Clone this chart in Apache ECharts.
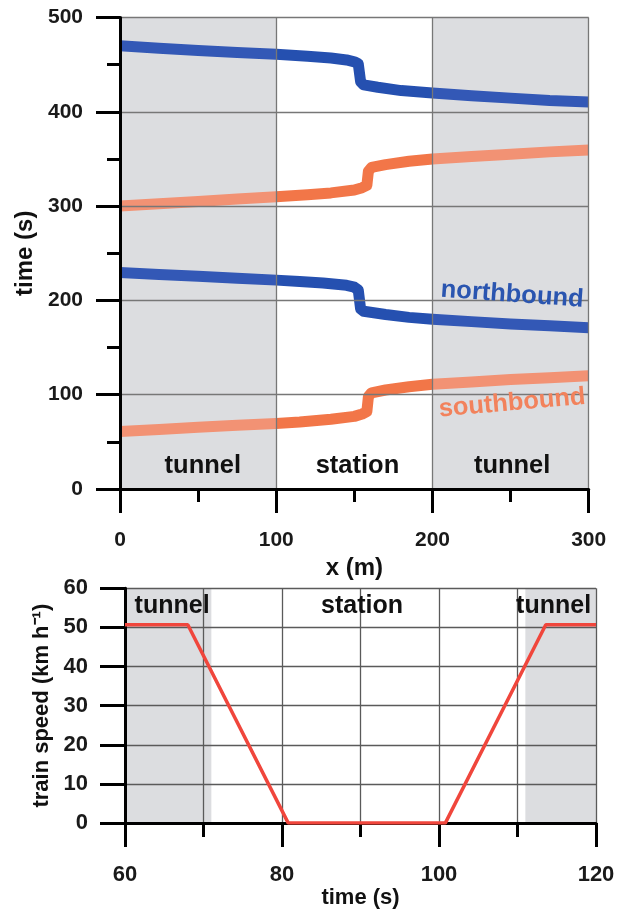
<!DOCTYPE html>
<html><head><meta charset="utf-8">
<script src="https://cdn.jsdelivr.net/npm/echarts@6/dist/echarts.min.js"></script>
<style>html,body{margin:0;padding:0;background:#fff}#c{width:623px;height:910px}</style>
</head><body><div id="c"></div><script>
const FONT = '"Liberation Sans", Arial, Helvetica, sans-serif';

// Top panel: x (m) vs time (s)
const northUpper = [[0,470],[25,467.5],[50,465],[75,463],[100,461],[120,459],[135,457],[145,455],[150,453],[152.5,451],[154,432],[156,428.5],[165,426],[180,422.5],[200,420],[225,417],[250,414.5],[275,412],[300,410.5]];
const southUpper = [[0,300],[25,302.5],[50,305],[75,307.5],[100,310],[120,312],[135,314],[150,317],[155,319.5],[158,322],[159,337],[161,341],[170,344],[185,347.5],[200,350],[225,352.5],[250,355],[275,357.5],[300,359.5]];
const northLower = [[0,229.5],[25,227.5],[50,225.5],[75,223.5],[100,221.5],[115,220],[130,218.5],[145,216],[150,214],[152.5,211],[154,191],[156,188.5],[170,185],[185,182],[200,180],[225,177.5],[250,175],[275,173],[300,171]];
const southLower = [[0,61],[25,63],[50,65.5],[75,67.5],[100,69.5],[115,71],[135,74],[150,77],[155,79.5],[158,82],[159,98],[161,102],[170,105],[185,108.5],[200,111],[225,113.5],[250,116],[275,118],[300,120]];
const topXTicks = [0, 100, 200, 300];
const topYTicks = [0, 100, 200, 300, 400, 500];
const topZones = [[0,100],[200,300]];
const topZoneLabels = [['tunnel',53,24],['station',152,24],['tunnel',251,24]];
const lineLabels = [['northbound',251,206,'#2a55b0',-4],['southbound',251,91,'#f2825c',5]];

// Bottom panel: time (s) vs train speed
const speed = [[60,50.7],[68,50.7],[80.8,0],[100.8,0],[113.6,50.7],[120,50.7]];
const botXTicks = [60, 80, 100, 120];
const botYTicks = [0, 10, 20, 30, 40, 50, 60];
const botZones = [[60,71],[111,120]];
const botZoneLabels = [['tunnel',66,55.5],['station',90.2,55.5],['tunnel',114.6,55.5]];

const SHADE = '#dcdde0';
const tickLabel = {fontFamily: FONT, fontWeight: 'bold', fontSize: 21, color: '#1a1a1a'};

function zoneArea(zones, ymin, ymax) {
  return {silent: true, itemStyle: {color: SHADE}, data: zones.map(z => [{coord: [z[0], ymin]}, {coord: [z[1], ymax]}])};
}
function labelPoints(list, size) {
  return {symbol: 'circle', symbolSize: 0, silent: true,
    data: list.map(l => ({coord: [l[1], l[2]], label: {show: true, position: 'inside', formatter: l[0], fontFamily: FONT, fontWeight: 'bold', fontSize: size, color: l[3] || '#111', rotate: l[4] || 0}}))};
}

const chart = echarts.init(document.getElementById('c'), null, {renderer: 'canvas'});
chart.setOption({
  animation: false,
  backgroundColor: '#fff',
  grid: [
    {left: 120, top: 17.5, width: 468.7, height: 471.5},
    {left: 125, top: 588.3, width: 471, height: 235.7}
  ],
  xAxis: [
    {gridIndex: 0, type: 'value', min: topXTicks[0], max: topXTicks[topXTicks.length-1], interval: 100, z: 5,
     axisLine: {show: true, onZero: false, lineStyle: {color: '#000', width: 3}},
     axisTick: {show: true, length: 24, lineStyle: {color: '#000', width: 3}},
     minorTick: {show: true, splitNumber: 2, length: 13, lineStyle: {color: '#000', width: 3}},
     splitLine: {show: true, lineStyle: {color: '#777', width: 1.3}},
     axisLabel: Object.assign({margin: 41, showMinLabel: true, showMaxLabel: true}, tickLabel),
     name: 'x (m)', nameLocation: 'middle', nameGap: 58,
     nameTextStyle: {fontFamily: FONT, fontWeight: 'bold', fontSize: 24, color: '#111'}},
    {gridIndex: 1, type: 'value', min: botXTicks[0], max: botXTicks[botXTicks.length-1], interval: 20, z: 3,
     axisLine: {show: true, onZero: false, lineStyle: {color: '#000', width: 3}},
     axisTick: {show: true, length: 24, lineStyle: {color: '#000', width: 3}},
     minorTick: {show: true, splitNumber: 2, length: 14, lineStyle: {color: '#000', width: 3}},
     splitLine: {show: true, lineStyle: {color: '#5a5a5a', width: 1.3}},
     minorSplitLine: {show: true, lineStyle: {color: '#5a5a5a', width: 1.3}},
     axisLabel: Object.assign({margin: 41, showMinLabel: true, showMaxLabel: true}, tickLabel, {fontSize: 22}),
     name: 'time (s)', nameLocation: 'middle', nameGap: 63,
     nameTextStyle: {fontFamily: FONT, fontWeight: 'bold', fontSize: 22, color: '#111'}}
  ],
  yAxis: [
    {gridIndex: 0, type: 'value', min: topYTicks[0], max: topYTicks[topYTicks.length-1], interval: 100, z: 5,
     axisLine: {show: true, onZero: false, lineStyle: {color: '#000', width: 3}},
     axisTick: {show: true, length: 24, lineStyle: {color: '#000', width: 3}},
     minorTick: {show: true, splitNumber: 2, length: 13, lineStyle: {color: '#000', width: 3}},
     splitLine: {show: true, lineStyle: {color: '#777', width: 1.3}},
     axisLabel: Object.assign({margin: 37, showMinLabel: true, showMaxLabel: true}, tickLabel),
     name: 'time (s)', nameLocation: 'middle', nameGap: 78, nameRotate: 90,
     nameTextStyle: {fontFamily: FONT, fontWeight: 'bold', fontSize: 24, color: '#111'}},
    {gridIndex: 1, type: 'value', min: botYTicks[0], max: botYTicks[botYTicks.length-1], interval: 10, z: 3,
     axisLine: {show: true, onZero: false, lineStyle: {color: '#000', width: 3}},
     axisTick: {show: true, length: 25, lineStyle: {color: '#000', width: 3}},
     splitLine: {show: true, lineStyle: {color: '#5a5a5a', width: 1.3}},
     axisLabel: Object.assign({margin: 37, showMinLabel: true, showMaxLabel: true}, tickLabel, {fontSize: 22}),
     name: 'train speed (km h\u207B\u00B9)', nameLocation: 'middle', nameGap: 64, nameRotate: 90,
     nameTextStyle: {fontFamily: FONT, fontWeight: 'bold', fontSize: 22, color: '#111'}}
  ],
  visualMap: [
    {show: false, type: 'piecewise', dimension: 0, seriesIndex: [1, 3],
     pieces: [{lt: 100, color: '#3358b6'}, {gte: 100, lt: 200, color: '#2550b0'}, {gte: 200, color: '#3358b6'}]},
    {show: false, type: 'piecewise', dimension: 0, seriesIndex: [2, 4],
     pieces: [{lt: 100, color: '#f29274'}, {gte: 100, lt: 200, color: '#f27648'}, {gte: 200, color: '#f29274'}]}
  ],
  series: [
    {type: 'line', xAxisIndex: 0, yAxisIndex: 0, data: [], z: 1, silent: true,
     markArea: zoneArea(topZones, 0, 500)},
    {type: 'line', xAxisIndex: 0, yAxisIndex: 0, data: northUpper, showSymbol: false, z: 2,
     lineStyle: {width: 11, cap: 'butt', join: 'round'}},
    {type: 'line', xAxisIndex: 0, yAxisIndex: 0, data: southUpper, showSymbol: false, z: 2,
     lineStyle: {width: 11, cap: 'butt', join: 'round'}},
    {type: 'line', xAxisIndex: 0, yAxisIndex: 0, data: northLower, showSymbol: false, z: 2,
     lineStyle: {width: 11, cap: 'butt', join: 'round'}},
    {type: 'line', xAxisIndex: 0, yAxisIndex: 0, data: southLower, showSymbol: false, z: 2,
     lineStyle: {width: 11, cap: 'butt', join: 'round'}},
    {type: 'line', xAxisIndex: 0, yAxisIndex: 0, data: [], z: 6, silent: true,
     markPoint: labelPoints(topZoneLabels, 25.5)},
    {type: 'line', xAxisIndex: 0, yAxisIndex: 0, data: [], z: 4, silent: true,
     markPoint: labelPoints(lineLabels, 25.5)},
    {type: 'line', xAxisIndex: 1, yAxisIndex: 1, data: [], z: 1, silent: true,
     markArea: zoneArea(botZones, 0, 60)},
    {type: 'line', xAxisIndex: 1, yAxisIndex: 1, data: speed, showSymbol: false, z: 6,
     lineStyle: {width: 3.5, color: '#f0463c'}, itemStyle: {color: '#f0463c'}},
    {type: 'line', xAxisIndex: 1, yAxisIndex: 1, data: [], z: 6, silent: true,
     markPoint: labelPoints(botZoneLabels, 25)}
  ]
});
</script></body></html>
